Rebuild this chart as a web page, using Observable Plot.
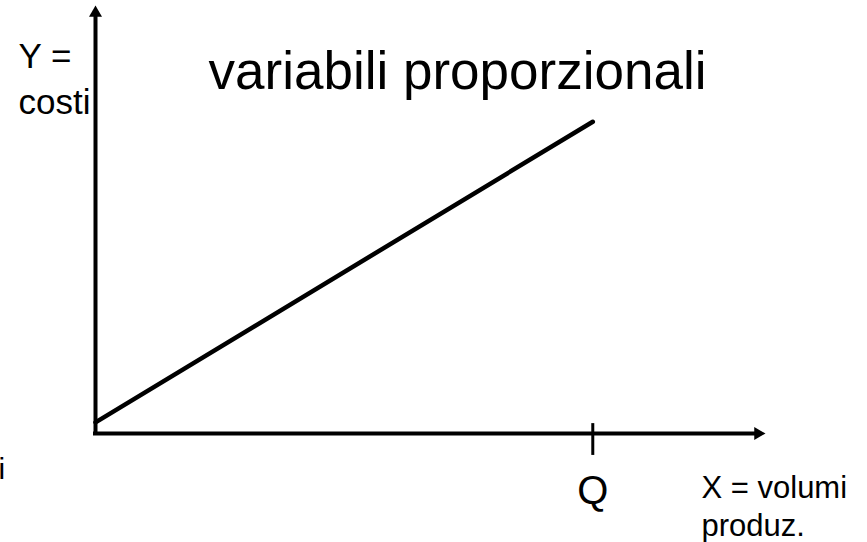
<!DOCTYPE html>
<html>
<head>
<meta charset="utf-8">
<script src="https://cdn.jsdelivr.net/npm/d3@7"></script>
<script src="https://cdn.jsdelivr.net/npm/@observablehq/plot@0.6"></script>
<style>
  html, body { margin: 0; padding: 0; background: #fff; }
  #chart svg { display: block; }
</style>
</head>
<body>
<div id="chart"></div>
<script>
// ---- data ----
const titleText = "variabili proporzionali";
const yLabelLines = ["Y =", "costi"];
const xLabelLines = ["X = volumi", "produz."];
const strayLabel = ["i"];
const qLabel = ["Q"];
const qValue = 74;               // position of Q on the volume axis
const lineVolume = [0, 74];      // X values of the cost line
const lineCost = [2.6, 72.5];    // Y values of the cost line
const axisMax = 100;             // length of both axes (arrow tips)

const costLine = lineVolume.map((v, i) => ({x: v, y: lineCost[i]}));
const font = "Liberation Sans, Arial, Helvetica, sans-serif";

const chart = Plot.plot({
  width: 867,
  height: 542,
  margin: 0,
  style: {background: "#fff", fontFamily: font},
  x: {domain: [0, axisMax], range: [95, 767], axis: null},
  y: {domain: [0, axisMax], range: [433, 3], axis: null},
  marks: [
    // texts behind the axes (costi's "i" is overlapped by the axis)
    Plot.text([yLabelLines.join("\n")], {text: d => d, frameAnchor: "top-left", dx: 18, dy: 113, textAnchor: "start", lineAnchor: "bottom", lineHeight: 1.31, fontSize: 35, fill: "#000", fontFamily: font}),
    // axes
    Plot.ruleX([0], {y1: 0, y2: axisMax - 3, stroke: "#000", strokeWidth: 4, strokeLinecap: "square"}),
    Plot.ruleY([0], {x1: 0, x2: axisMax - 2, stroke: "#000", strokeWidth: 4, strokeLinecap: "square"}),
    // arrow heads
    Plot.dot([0], {x: 0, y: axisMax, symbol: "triangle2", r: 6.2, fill: "#000", stroke: "none", dy: 9.5}),
    Plot.dot([0], {x: axisMax, y: 0, symbol: "triangle2", r: 6.2, fill: "#000", stroke: "none", rotate: 90, dx: -9.5}),
    // tick at Q
    Plot.ruleX([qValue], {y1: -5.1, y2: 2.3, stroke: "#000", strokeWidth: 3}),
    // proportional cost line
    Plot.line(costLine, {x: "x", y: "y", stroke: "#000", strokeWidth: 4.5}),
    // texts
    Plot.text([titleText], {text: d => d, frameAnchor: "top-left", dx: 457, dy: 88, textAnchor: "middle", lineAnchor: "bottom", fontSize: 53, fill: "#000", fontFamily: font}),
    Plot.text([xLabelLines.join("\n")], {text: d => d, frameAnchor: "top-left", dx: 701, dy: 535, textAnchor: "start", lineAnchor: "bottom", lineHeight: 1.2, fontSize: 31, fill: "#000", fontFamily: font}),
    Plot.text(qLabel, {text: d => d, x: qValue, frameAnchor: "top", dy: 503, textAnchor: "middle", lineAnchor: "bottom", fontSize: 40, fill: "#000", fontFamily: font}),
    Plot.text(strayLabel, {text: d => d, frameAnchor: "top-left", dx: 4.7, dy: 478, textAnchor: "end", lineAnchor: "bottom", fontSize: 30, fill: "#000", fontFamily: font})
  ]
});
document.getElementById("chart").appendChild(chart);
</script>
</body>
</html>
